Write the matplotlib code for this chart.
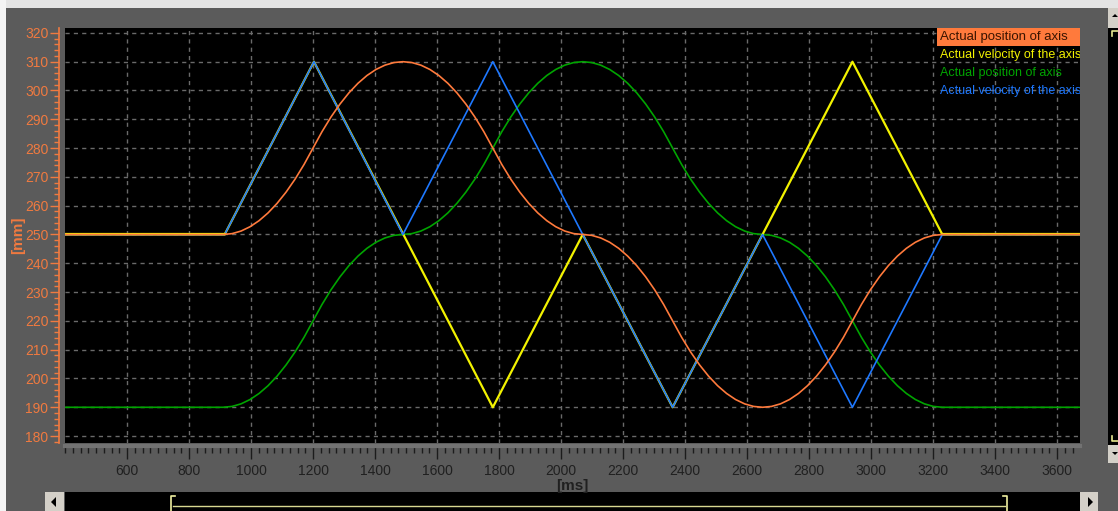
import matplotlib
matplotlib.use("Agg")
import matplotlib.pyplot as plt
from matplotlib.patches import Rectangle, Polygon
from matplotlib.lines import Line2D
from matplotlib.ticker import MultipleLocator

# velocity traces (triangles), read at the corners
vel1_t = [400, 915, 1203, 1780, 2070, 2360, 2650, 2940, 3230, 3674]
vel1_v = [250, 250, 310, 190, 250, 190, 250, 310, 250, 250]
vel2_t = [400, 915, 1203, 1490, 1780, 2360, 2650, 2940, 3230, 3674]
vel2_v = [250, 250, 310, 250, 310, 190, 250, 190, 250, 250]

# position traces, every 29 ms between 910 and 3230
pos_t = [400] + list(range(910, 3231, 29)) + [3674]
pos1_v = [250,
          250, 250.3, 251.2, 252.7, 254.8, 257.5, 260.8, 264.7, 269.2, 274.3, 280,
          285.7, 290.8, 295.3, 299.2, 302.5, 305.2, 307.3, 308.8, 309.7, 310,
          309.7, 308.8, 307.3, 305.2, 302.5, 299.2, 295.3, 290.8, 285.7, 280,
          274.3, 269.2, 264.7, 260.8, 257.5, 254.8, 252.7, 251.2, 250.3, 250,
          249.7, 248.8, 247.3, 245.2, 242.5, 239.2, 235.3, 230.8, 225.7, 220,
          214.3, 209.2, 204.7, 200.8, 197.5, 194.8, 192.7, 191.2, 190.3, 190,
          190.3, 191.2, 192.7, 194.8, 197.5, 200.8, 204.7, 209.2, 214.3, 220,
          225.7, 230.8, 235.3, 239.2, 242.5, 245.2, 247.3, 248.8, 249.7, 250,
          250]
pos2_v = [190,
          190, 190.3, 191.2, 192.7, 194.8, 197.5, 200.8, 204.7, 209.2, 214.3, 220,
          225.7, 230.8, 235.3, 239.2, 242.5, 245.2, 247.3, 248.8, 249.7, 250,
          250.3, 251.2, 252.7, 254.8, 257.5, 260.8, 264.7, 269.2, 274.3, 280,
          285.7, 290.8, 295.3, 299.2, 302.5, 305.2, 307.3, 308.8, 309.7, 310,
          309.7, 308.8, 307.3, 305.2, 302.5, 299.2, 295.3, 290.8, 285.7, 280,
          274.3, 269.2, 264.7, 260.8, 257.5, 254.8, 252.7, 251.2, 250.3, 250,
          249.7, 248.8, 247.3, 245.2, 242.5, 239.2, 235.3, 230.8, 225.7, 220,
          214.3, 209.2, 204.7, 200.8, 197.5, 194.8, 192.7, 191.2, 190.3, 190,
          190]

names = ["Actual position of axis", "Actual velocity of the axis",
         "Actual position of axis", "Actual velocity of the axis"]
colors = ["#FF7A3C", "#F2F200", "#00A400", "#1E78FF"]

W, H = 1118, 511
BG = "#5b5b5b"
AXC = "#F07A40"
FONT = ["Liberation Sans Narrow", "Liberation Sans", "DejaVu Sans"]
plt.rcParams["font.family"] = FONT

fig = plt.figure(figsize=(W / 100, H / 100), dpi=100, facecolor=BG)


def px_rect(x0, y0, x1, y1, color, z=0):
    fig.add_artist(Rectangle((x0 / W, 1 - y1 / H), (x1 - x0) / W, (y1 - y0) / H,
                             transform=fig.transFigure, color=color, lw=0, zorder=z))


def px_line(xs, ys, color, lw=1.2):
    fig.add_artist(Line2D([x / W for x in xs], [1 - y / H for y in ys],
                          transform=fig.transFigure, color=color, lw=lw))


def px_tri(pts, color="black"):
    fig.add_artist(Polygon([(x / W, 1 - y / H) for x, y in pts],
                           transform=fig.transFigure, color=color, lw=0))


ax = fig.add_axes([65 / W, 1 - 443 / H, (1080 - 65) / W, (443 - 28) / H])
ax.set_facecolor("black")

ax.plot(pos_t, pos2_v, color=colors[2], lw=1.2)
ax.plot(vel1_t, vel1_v, color=colors[1], lw=1.6)
ax.plot(vel2_t, vel2_v, color=colors[3], lw=1.2)
# flat parts: yellow sits on top of blue there
ax.plot(vel1_t[:2], vel1_v[:2], color=colors[1], lw=1.6)
ax.plot(vel1_t[-2:], vel1_v[-2:], color=colors[1], lw=1.6)
ax.plot(pos_t, pos1_v, color=colors[0], lw=1.2)

ax.set_xlim(400, 3674)
ax.set_ylim(177.6, 321.7)
ax.set_xticks(range(600, 3601, 200))
ax.set_yticks(range(180, 321, 10))
ax.xaxis.set_minor_locator(MultipleLocator(25))
ax.yaxis.set_minor_locator(MultipleLocator(2))
ax.grid(True, which="major", color="#6a6a6a", linestyle=(0, (3, 3)), linewidth=1)
ax.set_axisbelow(True)

for s in ["top", "right"]:
    ax.spines[s].set_visible(False)
ax.spines["left"].set_position(("outward", 4))
ax.spines["left"].set_color(AXC)
ax.spines["left"].set_linewidth(1.2)
ax.spines["bottom"].set_position(("outward", 2))
ax.spines["bottom"].set_color("#727272")
ax.spines["bottom"].set_linewidth(3)

ax.tick_params(axis="y", which="major", colors=AXC, length=6.5, width=1, pad=1.5, labelsize=10)
ax.tick_params(axis="y", which="minor", colors=AXC, length=3.5, width=1)
ax.tick_params(axis="x", which="major", colors="#1c1c1c", length=9, width=1, pad=4, labelsize=10)
ax.tick_params(axis="x", which="minor", colors="#1c1c1c", length=5, width=1)
ax.tick_params(axis="x", labelcolor="#202020")

ax.set_xlabel("[ms]", fontsize=11, fontweight="bold", color="#202020", labelpad=1)
ax.set_ylabel("[mm]", fontsize=11, fontweight="bold", color=AXC, labelpad=0)

# legend: first row has an orange band behind dark text
px_rect(937, 28, 1080, 46, colors[0], z=5)
fig.text(940 / W, 1 - 37 / H, names[0], color="#3a1400", fontsize=9.5,
         va="center", ha="left", zorder=6)
for i in range(1, 4):
    t = ax.text(940 / W, 1 - (37 + 18 * i) / H, names[i], transform=fig.transFigure,
                color=colors[i], fontsize=9, va="center", ha="left", zorder=6)
    t.set_clip_on(True)
    t.set_clip_path(ax.patch)

# window frame bits
px_rect(0, 0, W, 8, "#e4e4e4")
px_rect(0, 0, 6, H, "#f4f4f4")
# right scrollbar
px_rect(1108, 8, W, 28, "#d4d0c8")
px_rect(1108, 28, W, 445, "black")
px_rect(1108, 445, W, 463, "#d4d0c8")
px_line([1118, 1112, 1112], [31, 31, 36], "#e8e890")
px_line([1112, 1112, 1118], [436, 441, 441], "#e8e890")
px_tri([(1112, 17), (1118, 17), (1115, 14)])
px_tri([(1112, 452), (1118, 452), (1115, 455)])
# bottom scrollbar
px_rect(65, 492, 1080, H, "black")
px_rect(45, 492, 64, H, "#d4d0c8")
px_rect(1080, 492, 1098, H, "#d4d0c8")
px_tri([(51, 502), (56, 497), (56, 507)])
px_tri([(1088, 497), (1088, 507), (1093, 502)])
px_line([175, 171, 171], [496, 496, H], "#f0f0a0")
px_line([1003, 1007, 1007], [496, 496, H], "#f0f0a0")
px_line([173, 1005], [506, 506], "#d8d890", lw=1)

fig.savefig("out.png", dpi=100, facecolor=BG)
